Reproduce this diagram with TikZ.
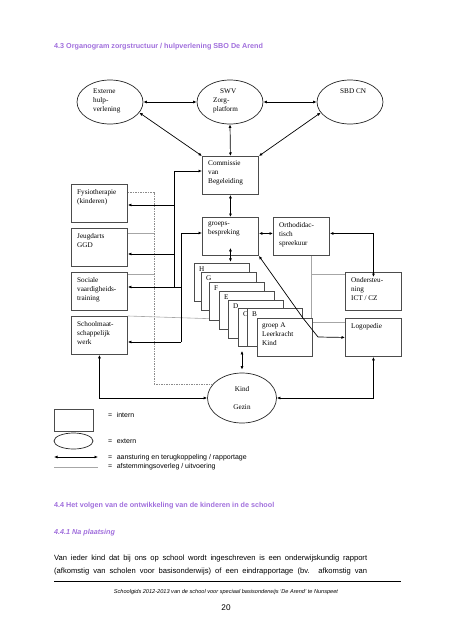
\documentclass[tikz,border=0pt]{standalone}
\usepackage{fontspec}
\setmainfont{Liberation Serif}
\setsansfont{Liberation Sans}
\usetikzlibrary{shapes.geometric,arrows.meta}
\definecolor{kopkleur}{RGB}{160,110,220}
\newcommand{\dgfont}{\fontsize{7.2}{9}\selectfont}
\newcommand{\lgfont}{\sffamily\fontsize{7}{8}\selectfont}
\tikzset{
  orgbox/.style={rectangle, draw=black!70, line width=0.9pt, fill=white, minimum width=56pt, minimum height=38pt, inner sep=0pt, anchor=north west},
  ext/.style={ellipse, draw=black!85, line width=0.7pt, minimum width=66pt, minimum height=44pt, inner sep=0pt},
  boxtxt/.style={anchor=north west, align=left, inner sep=0pt, font=\dgfont},
  arrB/.style={{Latex[length=3.5pt,width=3pt]}-{Latex[length=3.5pt,width=3pt]}, line width=0.7pt},
  arrE/.style={-{Latex[length=3.5pt,width=3pt]}, line width=0.7pt},
  grl/.style={draw=black!35, line width=0.6pt},
  dsh/.style={draw=black!45, line width=0.6pt, dash pattern=on 1.5pt off 1pt},
  kop/.style={anchor=west, inner sep=0pt, text=kopkleur, font=\sffamily\bfseries\fontsize{7.2}{9}\selectfont},
  lgtxt/.style={anchor=west, inner sep=0pt, font=\lgfont}
}
\begin{document}
\begin{tikzpicture}[x=1pt,y=-1pt]
  \useasboundingbox (0,0) rectangle (453,640);
  \node[kop] (kop43) at (54,47) {4.3 Organogram zorgstructuur / hulpverlening SBO De Arend};
  % extern
  \node[ext] (ext) at (110,102) {};
  \node[boxtxt] (extt) at (93,89) {Externe\\hulp-\\verlening};
  \node[ext] (swv) at (230,102) {};
  \node[boxtxt] (swvt) at (213,89) {\hspace{7pt}SWV\\Zorg-\\platform};
  \node[ext] (sbd) at (350,102) {};
  \node[boxtxt] (sbdt) at (340,89) {SBD CN};
  % intern
  \node[orgbox] (cvb) at (202,156) {};
  \node[boxtxt] (cvbt) at ([shift={(6,5)}]cvb.north west) {Commissie\\van\\Begeleiding};
  \node[orgbox] (gbs) at (202,217) {};
  \node[boxtxt] (gbst) at ([shift={(6,5)}]gbs.north west) {groeps-\\bespreking};
  \node[orgbox] (odt) at (273,217) {};
  \node[boxtxt] (odtt) at ([shift={(6,5)}]odt.north west) {Orthodidac-\\tisch\\spreekuur};
  \node[orgbox] (fys) at (71,184) {};
  \node[boxtxt] (fyst) at ([shift={(6,5)}]fys.north west) {Fysiotherapie\\(kinderen)};
  \node[orgbox] (jgd) at (71,228) {};
  \node[boxtxt] (jgdt) at ([shift={(6,5)}]jgd.north west) {Jeugdarts\\GGD};
  \node[orgbox] (sov) at (71,272) {};
  \node[boxtxt] (sovt) at ([shift={(6,5)}]sov.north west) {Sociale\\vaardigheids-\\training};
  \node[orgbox] (smw) at (71,316) {};
  \node[boxtxt] (smwt) at ([shift={(6,5)}]smw.north west) {Schoolmaat-\\schappelijk\\werk};
  \node[orgbox] (ond) at (345,272) {};
  \node[boxtxt] (ondt) at ([shift={(6,5)}]ond.north west) {Ondersteu-\\ning\\ICT / CZ};
  \node[orgbox] (logo) at (345,318) {};
  \node[boxtxt] (logot) at ([shift={(6,5)}]logo.north west) {Logopedie};
  \node[ext, minimum width=69pt, minimum height=50pt, font=\dgfont, align=center] (kg) at (242,398) {Kind\\[9pt]Gezin};
  % afstemming
  \coordinate (d1) at (154,192);
  \coordinate (g1) at (154,233);
  \coordinate (g2) at (154,274);
  \coordinate (g5) at (311,274);
  \coordinate (g6) at (311,322);
  \draw[dsh] (d1 -| fys.east) -- (d1) |- (kg.154); % fys--kg
  \draw[grl] (g1 -| jgd.east) -- (g1); % jgd
  \draw[grl] (g2 -| sov.east) -- (g2); % sov
  \draw[grl] (smw.north east) -- (g6); % smw--logo
  \draw[grl] (g5 |- odt.south) -- (g6) -- (g6 -| logo.west); % odt--logo
  \draw[grl] (g5) -- (g5 -| ond.west); % odt--ond
  % groepen
  \foreach \n/\x/\y in {H/194/263,G/201/272,F/209/282,E/219/291,D/228/300,C/238/308,B/247/308}{
    \node[orgbox, minimum width=55pt] (s\n) at (\x,\y) {};
    \node[boxtxt] (l\n) at ([shift={(5,4)}]s\n.north west) {\n};
  }
  \node[orgbox, minimum width=55pt] (sA) at (257,318) {};
  \node[boxtxt] (lA) at ([shift={(5,5)}]sA.north west) {groep A\\Leerkracht\\Kind};
  % aansturing
  \draw[arrB] (ext.east) -- (swv.west); % ext--swv
  \draw[arrB] (swv.east) -- (sbd.west); % swv--sbd
  \draw[arrB] (ext.-20) -- (cvb.north west); % ext--cvb
  \draw[arrB] (swv.south) -- (cvb.north); % swv--cvb
  \draw[arrB] (sbd.-160) -- (cvb.north east); % sbd--cvb
  \draw[arrB] (cvb.south) -- (gbs.north); % cvb--gbs
  \draw[arrB] ([yshift=3pt]gbs.east) -- ([yshift=3pt]odt.east -| odt.west); % gbs--odt
  \draw[arrB] ([yshift=3pt]odt.east) -| ([yshift=-5pt]ond.north); % odt--ond
  \coordinate (t1) at (174,171);
  \coordinate (j1) at (174,205);
  \coordinate (j2) at (174,254);
  \coordinate (t2) at (181,233);
  \coordinate (j3) at (181,287);
  \coordinate (t2b) at (181,342);
  \draw[arrE] (j3 -| t1) -- (t1) -- (t1 -| cvb.west); % trunk--cvb
  \draw[arrE] (j1) -- (j1 -| fys.east); % trunk--fys
  \draw[arrE] (j2) -- (j2 -| jgd.east); % trunk--jgd
  \draw[arrE] (t2b) -- (t2) -- (t2 -| gbs.west); % trunk--gbs
  \draw[arrE] (j3) -- (j3 -| sov.east); % trunk--sov
  \draw[arrE] (t2b) -- (t2b -| smw.east); % trunk--smw
  \draw[arrB] ([yshift=8pt]gbs.south) -- ([yshift=-6pt]gbs.south); % gbs--groepen
  \coordinate (P) at ([xshift=-10pt]sA.north east);
  \coordinate (Q) at (318,337);
  \draw[arrE] (P) -- (gbs.south east); % groepen--gbs
  \draw[arrE] (P) -- (Q) -- (logo.west); % groepen--logo
  \draw[arrB] ([yshift=-4pt]kg.north |- sC.south) -- ([yshift=3pt]kg.north); % groepen--kg
  \draw[arrB] (smw.south) |- (kg.west); % smw--kg
  \draw[arrB] (logo.south) |- (kg.east); % logo--kg
  % legenda
  \node[orgbox, minimum width=39pt, minimum height=22pt] (lgb) at (54,409) {};
  \node[lgtxt] (lgbt) at (108,415) {=\hspace{4.5pt}intern};
  \node[ext, minimum width=39pt, minimum height=16pt] (lge) at (73.5,441) {};
  \node[lgtxt] (lget) at (108,441) {=\hspace{4.5pt}extern};
  \coordinate (la1) at (54,457);
  \coordinate (la2) at (98,457);
  \draw[arrB] (la1) -- (la2);
  \node[lgtxt] (lgat) at (108,458) {=\hspace{4.5pt}aansturing en terugkoppeling / rapportage};
  \coordinate (lg1) at (54,467);
  \coordinate (lg2) at (98,467);
  \draw[grl] (lg1) -- (lg2);
  \node[lgtxt] (lggt) at (108,467) {=\hspace{4.5pt}afstemmingsoverleg / uitvoering};
  % tekst
  \node[kop] (kop44) at (54,506) {4.4 Het volgen van de ontwikkeling van de kinderen in de school};
  \node[kop, font=\sffamily\bfseries\itshape\fontsize{7.2}{9}\selectfont] (kop441) at (54,533) {4.4.1 Na plaatsing};
  \node[anchor=west, inner sep=0pt, font=\sffamily\fontsize{7.6}{9}\selectfont] (regel1) at (54,559) {\makebox[313pt][s]{Van ieder kind dat bij ons op school wordt ingeschreven is een onderwijskundig rapport}};
  \node[anchor=west, inner sep=0pt, font=\sffamily\fontsize{7.6}{9}\selectfont] (regel2) at (54,572) {\makebox[313pt][s]{(afkomstig van scholen voor basisonderwijs) of een eindrapportage (bv. afkomstig van}};
  \draw[line width=0.8pt] (54,581) -- (401,581);
  \node[inner sep=0pt, font=\sffamily\itshape\fontsize{5.6}{7}\selectfont] (voet) at (226,592) {Schoolgids 2012-2013 van de school voor speciaal basisonderwijs `De Arend' te Nunspeet};
  \node[inner sep=0pt, font=\sffamily\fontsize{8.2}{9}\selectfont] (pagina) at (226,608) {20};
\end{tikzpicture}
\end{document}
